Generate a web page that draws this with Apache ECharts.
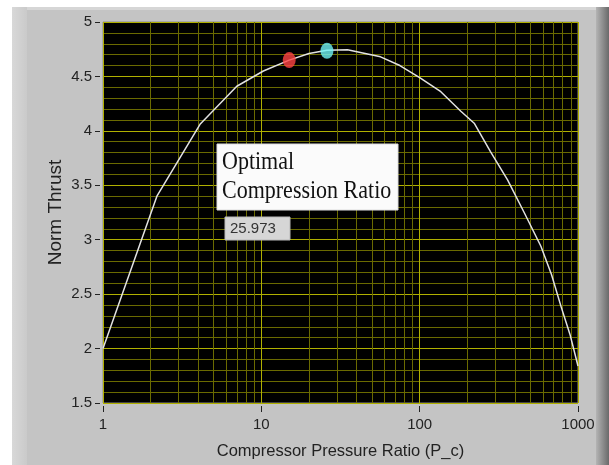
<!DOCTYPE html>
<html>
<head>
<meta charset="utf-8">
<script src="https://cdn.jsdelivr.net/npm/echarts@6/dist/echarts.min.js"></script>
<style>
html,body{margin:0;padding:0;background:#fff;}
#wrap{position:relative;width:609px;height:465px;overflow:hidden;}
#panel{position:absolute;left:12px;top:7px;width:597px;height:458px;background:#c4c4c4;}
#ptop{position:absolute;left:12px;top:7px;width:597px;height:3px;background:#d6d6d6;}
#pleft{position:absolute;left:12px;top:7px;width:15px;height:458px;background:linear-gradient(to right,#d8d8d8,#cacaca);}
#pright{position:absolute;left:596px;top:7px;width:13px;height:458px;background:linear-gradient(to right,#b4b4b4,#6a6a6a);}
#chart{position:absolute;left:0;top:0;width:609px;height:465px;}
</style>
</head>
<body>
<div id="wrap">
<div id="panel"></div><div id="ptop"></div><div id="pleft"></div><div id="pright"></div>
<div id="chart"></div>
</div>
<script>
// Curve data (log x axis)
const pressureRatio = [1, 2.19, 4.1, 7.0, 10.3, 15, 20, 26, 35, 56.6, 75, 100, 136, 182, 221, 280, 359, 457, 583, 680, 780, 890, 1000];
const normThrust    = [2.0, 3.40, 4.06, 4.41, 4.55, 4.65, 4.71, 4.74, 4.745, 4.68, 4.60, 4.49, 4.36, 4.18, 4.07, 3.81, 3.55, 3.25, 2.94, 2.68, 2.39, 2.13, 1.84];
// Marked points
const currentPoint = [15.0, 4.65];
const optimalRatio = 25.973;
const optimalThrust = 4.735;
// Axis ticks
const xMajorTicks = [1, 10, 100, 1000];
const xMinorTicks = [2,3,4,5,6,7,8,9,20,30,40,50,60,70,80,90,200,300,400,500,600,700,800,900];
const yTicks = [1.5, 2, 2.5, 3, 3.5, 4, 4.5, 5];

const chart = echarts.init(document.getElementById('chart'), null, {renderer: 'canvas'});
const FONT = '"Liberation Sans", Arial, sans-serif';
const MAJOR = '#b0b000';
const MINOR = '#6a6a00';

const option = {
  animation: false,
  backgroundColor: 'transparent',
  textStyle: {fontFamily: FONT},
  graphic: [
    {type: 'rect', z: 100, shape: {x: 217, y: 144, width: 181, height: 66},
      style: {fill: '#fbfbfb', stroke: '#dddddd', lineWidth: 1}},
    {type: 'text', z: 101, x: 222, y: 147, scaleY: 1.15,
      style: {text: 'Optimal\nCompression Ratio', font: '22px "Liberation Serif", "Times New Roman", serif',
        fill: '#111', lineHeight: 26, verticalAlign: 'top', align: 'left'}},
    {type: 'rect', z: 100, shape: {x: 225, y: 217, width: 65, height: 23},
      style: {fill: '#d6d6d6', stroke: '#b8b8b8', lineWidth: 1}},
    {type: 'text', z: 101, x: 230, y: 229,
      style: {text: String(optimalRatio), font: '15px ' + FONT, fill: '#333', verticalAlign: 'middle', align: 'left'}}
  ],
  grid: {
    left: 103, top: 22, right: 31, bottom: 61,
    show: true, backgroundColor: '#000000', borderColor: '#8a8a8a', borderWidth: 1
  },
  xAxis: {
    type: 'log', logBase: 10, min: 1, max: 1000,
    offset: 3,
    name: 'Compressor Pressure Ratio (P_c)', nameLocation: 'middle', nameGap: 37,
    nameTextStyle: {fontSize: 16.5, color: '#222', fontFamily: FONT},
    axisLine: {show: false},
    axisTick: {show: true, length: 6, lineStyle: {color: '#222', width: 1}},
    axisLabel: {fontSize: 15, color: '#222', margin: 11, fontFamily: FONT,
      formatter: v => xMajorTicks.includes(Math.round(v)) ? String(Math.round(v)) : ''},
    splitLine: {show: true, lineStyle: {color: MAJOR, width: 1}}
  },
  yAxis: {
    type: 'value', min: 1.5, max: 5, interval: 0.5,
    offset: 3,
    name: 'Norm Thrust', nameLocation: 'middle', nameGap: 35, nameMoveOverlap: false,
    nameTextStyle: {fontSize: 19, color: '#222', fontFamily: FONT},
    axisLine: {show: false},
    axisTick: {show: true, length: 5, lineStyle: {color: '#222', width: 1}},
    axisLabel: {fontSize: 15, color: '#222', margin: 8, fontFamily: FONT,
      formatter: v => yTicks.includes(v) ? String(v) : ''},
    splitLine: {show: true, lineStyle: {color: MAJOR, width: 1}},
    minorTick: {show: false, splitNumber: 5},
    minorSplitLine: {show: true, lineStyle: {color: MINOR, width: 1}}
  },
  series: [
    {
      type: 'line', data: [], silent: true, z: 1,
      markLine: {
        silent: true, symbol: ['none', 'none'], label: {show: false},
        lineStyle: {type: 'solid', color: MINOR, width: 1},
        emphasis: {disabled: true},
        data: xMinorTicks.map(v => ({xAxis: v}))
      }
    },
    {
      type: 'line', z: 5,
      data: pressureRatio.map((x, i) => [x, normThrust[i]]),
      showSymbol: false, symbol: 'none', smooth: false,
      lineStyle: {color: '#e2e2e2', width: 1.5}
    },
    {
      type: 'scatter', z: 6,
      data: [currentPoint],
      symbol: 'circle', symbolSize: [13, 16],
      itemStyle: {color: '#ff4444'}
    },
    {
      type: 'scatter', z: 6,
      data: [[optimalRatio, optimalThrust]],
      symbol: 'circle', symbolSize: [13, 16],
      itemStyle: {color: '#6ff3f5'}
    }
  ]
};
chart.setOption(option);
</script>
</body>
</html>
